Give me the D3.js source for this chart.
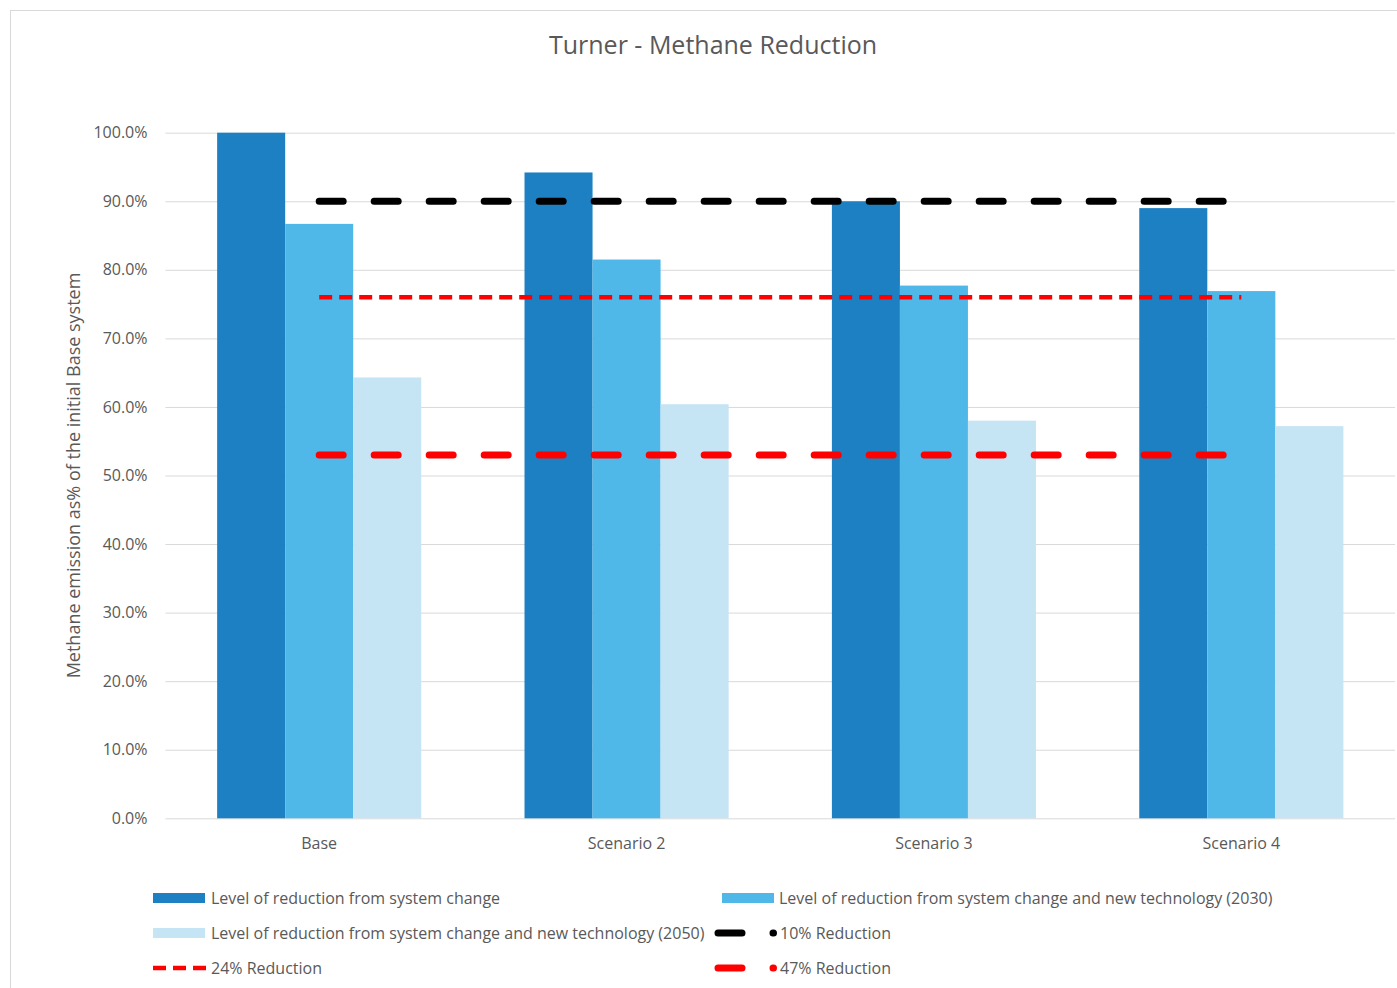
<!DOCTYPE html>
<html>
<head>
<meta charset="utf-8">
<script src="https://cdn.jsdelivr.net/npm/d3@7"></script>
<style>
  html, body { margin: 0; padding: 0; background: #ffffff; }
  svg { display: block; }
  text { font-family: "Open Sans", Lato, "Noto Sans", sans-serif; fill: #595959; }
</style>
</head>
<body>
<svg id="chart" width="1397" height="988"></svg>
<script>
// Categories and series (% of the initial Base system)
const categories = ["Base", "Scenario 2", "Scenario 3", "Scenario 4"];
const systemChange = [100.0, 94.2, 90.0, 89.0];
const newTech2030 = [86.7, 81.5, 77.7, 76.9];
const newTech2050 = [64.3, 60.4, 58.0, 57.2];
const reduction10 = [90, 90, 90, 90];
const reduction24 = [76, 76, 76, 76];
const reduction47 = [53, 53, 53, 53];
const yTicks = [0, 10, 20, 30, 40, 50, 60, 70, 80, 90, 100];

const barSeries = [
  { name: "Level of reduction from system change", values: systemChange, color: "#1c80c3" },
  { name: "Level of reduction from system change and new technology (2030)", values: newTech2030, color: "#50b8e8" },
  { name: "Level of reduction from system change and new technology (2050)", values: newTech2050, color: "#c5e4f4" }
];
const lineSeries = [
  { name: "10% Reduction", values: reduction10, color: "#000000", width: 7, dash: "24,31", cap: "round" },
  { name: "24% Reduction", values: reduction24, color: "#ff0000", width: 4.5, dash: "13,7", cap: "butt" },
  { name: "47% Reduction", values: reduction47, color: "#ff0000", width: 7, dash: "24,31", cap: "round" }
];

const svg = d3.select("#chart");

// chart frame
svg.append("rect")
  .attr("x", 10.5).attr("y", 10.5)
  .attr("width", 1400).attr("height", 1000)
  .attr("fill", "#ffffff").attr("stroke", "#d9d9d9");

const plot = { left: 165.5, right: 1395, top: 132.7, bottom: 818.3 };

const x0 = d3.scaleBand()
  .domain(categories)
  .range([plot.left, plot.right])
  .paddingInner(0.336)
  .paddingOuter(0.168);
const x1 = d3.scaleBand()
  .domain(barSeries.map(s => s.name))
  .range([0, x0.bandwidth()]);
const y = d3.scaleLinear().domain([0, 100]).range([plot.bottom, plot.top]);

// gridlines
svg.append("g")
  .attr("transform", `translate(${plot.left},0)`)
  .call(d3.axisLeft(y).tickValues(yTicks).tickSize(-(plot.right - plot.left)).tickFormat(""))
  .call(g => g.select(".domain").remove())
  .call(g => g.selectAll("line").attr("stroke", "#d9d9d9").attr("stroke-width", 1));

// y axis labels
svg.append("g")
  .attr("transform", `translate(${plot.left},0)`)
  .call(d3.axisLeft(y).tickValues(yTicks).tickSize(0).tickPadding(18)
    .tickFormat(d => d3.format(".1%")(d / 100)))
  .call(g => g.select(".domain").remove())
  .call(g => g.selectAll("text")
    .style("font-family", "'Open Sans', Lato, sans-serif")
    .attr("font-size", 16).attr("fill", "#595959"));

// bars
const groups = svg.append("g").selectAll("g")
  .data(categories)
  .join("g")
  .attr("transform", d => `translate(${x0(d)},0)`);
groups.selectAll("rect")
  .data((c, i) => barSeries.map(s => ({ s, v: s.values[i] })))
  .join("rect")
  .attr("x", d => x1(d.s.name))
  .attr("width", x1.bandwidth())
  .attr("y", d => y(d.v))
  .attr("height", d => y(0) - y(d.v))
  .attr("fill", d => d.s.color);

// x axis
svg.append("g")
  .attr("transform", `translate(0,${plot.bottom})`)
  .call(d3.axisBottom(x0).tickSize(0).tickPadding(19))
  .call(g => g.select(".domain").remove())
  .call(g => g.selectAll("text")
    .style("font-family", "'Open Sans', Lato, sans-serif")
    .attr("font-size", 16).attr("fill", "#595959"));

// reduction target lines
const line = d3.line()
  .x((d, i) => x0(categories[i]) + x0.bandwidth() / 2)
  .y(d => y(d));
svg.append("g").selectAll("path")
  .data(lineSeries)
  .join("path")
  .attr("d", d => line(d.values))
  .attr("fill", "none")
  .attr("stroke", d => d.color)
  .attr("stroke-width", d => d.width)
  .attr("stroke-dasharray", d => d.dash)
  .attr("stroke-linecap", d => d.cap);

// title
svg.append("text")
  .attr("x", 713).attr("y", 54)
  .attr("text-anchor", "middle")
  .attr("font-size", 25)
  .text("Turner - Methane Reduction");

// y axis title
svg.append("text")
  .attr("transform", `translate(80,${(plot.top + plot.bottom) / 2}) rotate(-90)`)
  .attr("text-anchor", "middle")
  .attr("font-size", 18)
  .text("Methane emission as% of the initial Base system");

// legend
const legendItems = [
  { kind: "bar", s: barSeries[0], x: 153, y: 898, tx: 211 },
  { kind: "bar", s: barSeries[1], x: 722, y: 898, tx: 779 },
  { kind: "bar", s: barSeries[2], x: 153, y: 933, tx: 211 },
  { kind: "line", s: lineSeries[0], x: 718, y: 933, tx: 780 },
  { kind: "line", s: lineSeries[1], x: 153, y: 968, tx: 211 },
  { kind: "line", s: lineSeries[2], x: 718, y: 968, tx: 780 }
];
const legend = svg.append("g");
legendItems.forEach(item => {
  const g = legend.append("g");
  if (item.kind === "bar") {
    g.append("rect")
      .attr("x", item.x).attr("y", item.y - 5)
      .attr("width", 52).attr("height", 10)
      .attr("fill", item.s.color);
  } else {
    g.append("line")
      .attr("x1", item.x).attr("x2", item.x + 55.5)
      .attr("y1", item.y).attr("y2", item.y)
      .attr("stroke", item.s.color)
      .attr("stroke-width", item.s.width)
      .attr("stroke-dasharray", item.s.dash)
      .attr("stroke-linecap", item.s.cap);
  }
  g.append("text")
    .attr("x", item.tx)
    .attr("y", item.y)
    .attr("dy", "0.35em")
    .attr("font-size", 16)
    .text(item.s.name);
});
</script>
</body>
</html>
